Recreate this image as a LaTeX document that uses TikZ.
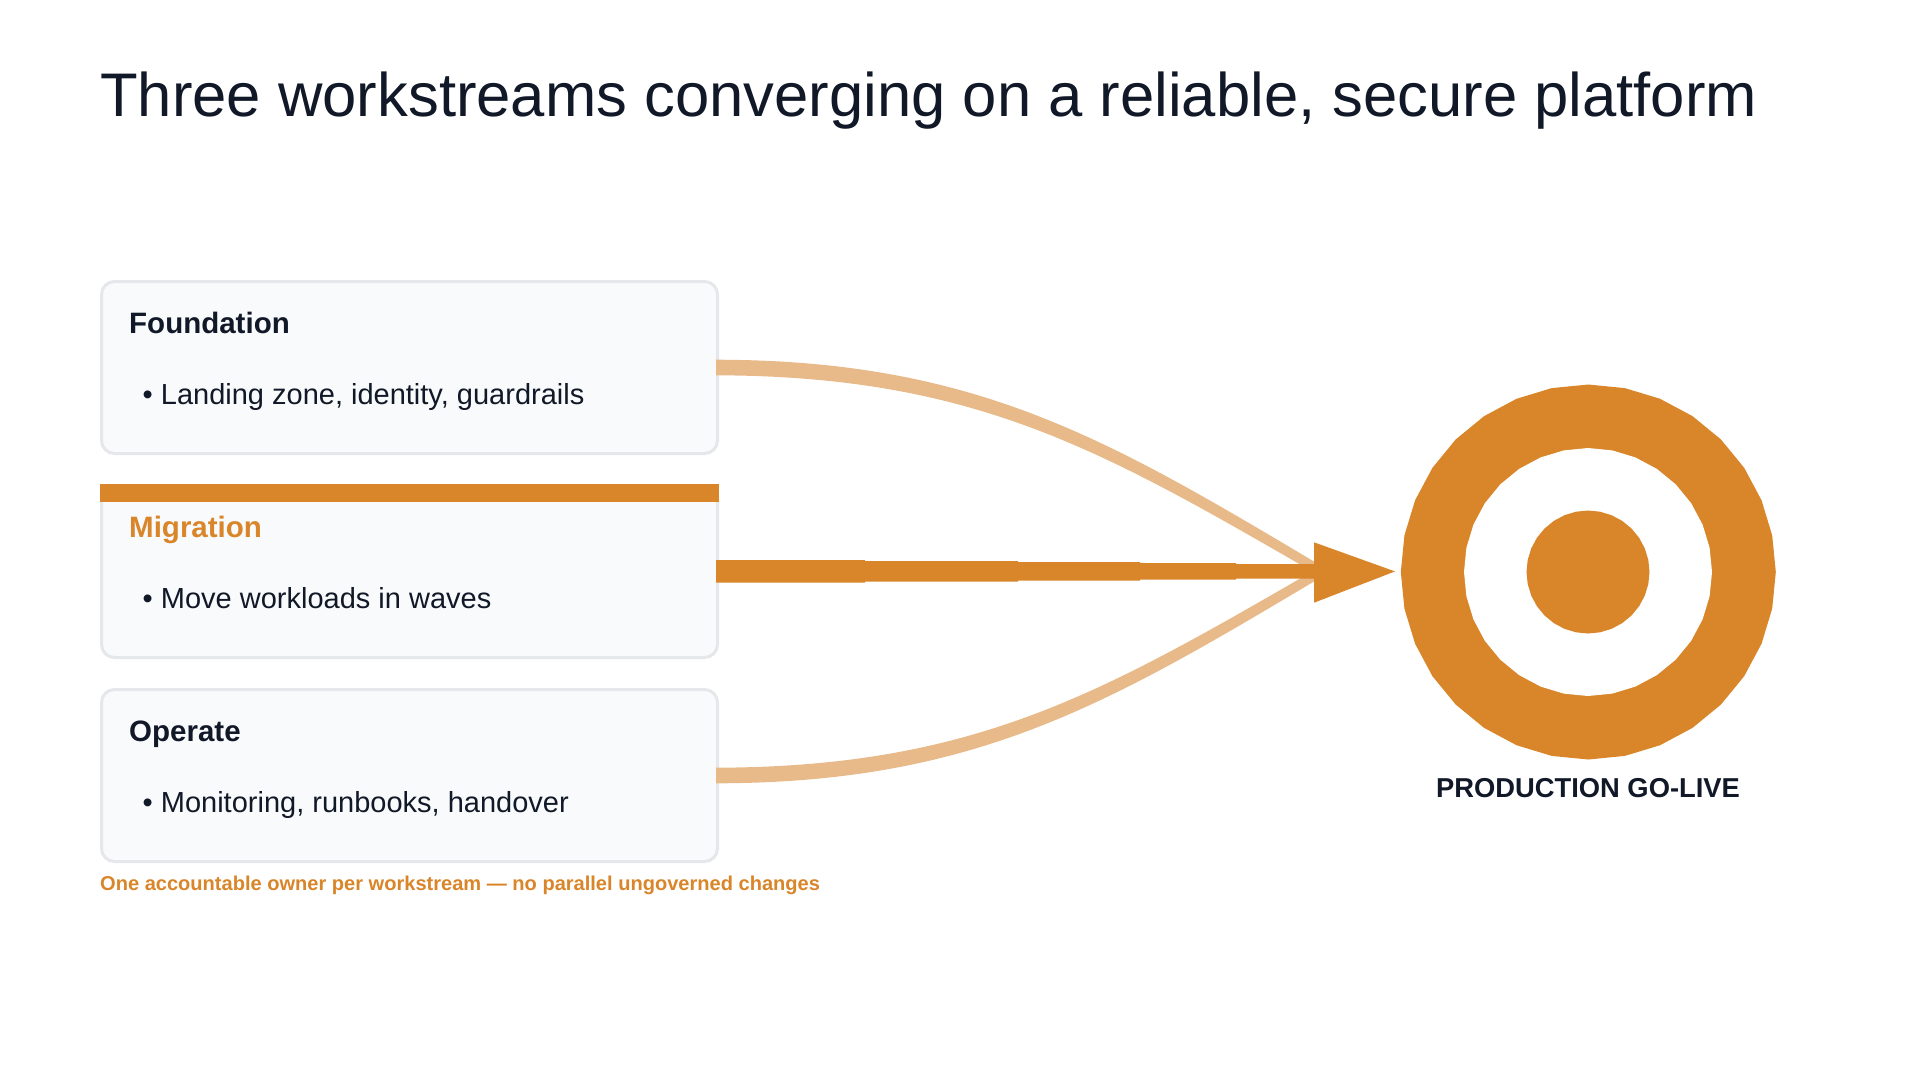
\documentclass[tikz,border=0pt]{standalone}
\usepackage{fontspec}
\setmainfont{Liberation Sans}
\usetikzlibrary{calc,shapes.geometric}
\definecolor{ink}{HTML}{111827}
\definecolor{hot}{HTML}{D98529}
\definecolor{pale}{HTML}{E8BA8A}
\definecolor{boxfill}{HTML}{F9FAFB}
\definecolor{boxline}{HTML}{E5E7EB}
\tikzset{
  x=1pt,y=-1pt,
  card/.style={draw=boxline,fill=boxfill,line width=3pt,rounded corners=13pt,minimum width=616pt,minimum height=172pt,inner sep=0pt},
  cardhead/.style={anchor=base west,inner sep=0pt,text=ink,font=\fontsize{29.5}{34}\selectfont\bfseries},
  cardtext/.style={anchor=base west,inner sep=0pt,text=ink,font=\fontsize{29}{34}\selectfont},
  ring/.style={regular polygon,regular polygon sides=32,shape border rotate=5.625,inner sep=0pt,outer sep=0pt,fill=#1},
}
\begin{document}
\begin{tikzpicture}
\useasboundingbox (0,0) rectangle (1919,1080);
\node[anchor=base west,inner sep=0pt,text=ink,font=\fontsize{61.6}{70}\selectfont] (title) at (100,116.7) {Three workstreams converging on a reliable, secure platform};

\node[card] (fnd) at (409.5,367.5) {};
\node[card] (mig) at (409.5,571.5) {};
\node[card] (opr) at (409.5,775.5) {};
\node[inner sep=0pt,fill=hot,minimum width=619pt,minimum height=18pt] (bar) at (409.5,493) {};

\node[cardhead] (fndh) at (129,333.3) {Foundation};
\node[cardtext] (fndt) at (142.5,404) {• Landing zone, identity, guardrails};
\node[cardhead,text=hot] (migh) at (129,537.3) {Migration};
\node[cardtext] (migt) at (142.5,608) {• Move workloads in waves};
\node[cardhead] (oprh) at (129,741.3) {Operate};
\node[cardtext] (oprt) at (142.5,812) {• Monitoring, runbooks, handover};

\node[anchor=base west,inner sep=0pt,text=hot,font=\fontsize{20.05}{24}\selectfont\bfseries] (note) at (100,890) {One accountable owner per workstream — no parallel ungoverned changes};

\node[ring=hot,minimum size=375pt] (outer) at (1588.3,572) {};
\node[ring=white,minimum size=248pt] (middle) at (1588,572) {};
\node[ring=hot,minimum size=123pt] (core) at (1588,572) {};
\node[anchor=base,inner sep=0pt,text=ink,font=\fontsize{27.35}{32}\selectfont\bfseries] (golive) at (1588,797) {PRODUCTION GO-LIVE};

\coordinate (headtop) at (1314,542.3);
\coordinate (headtip) at (1395,571.4);
\coordinate (headbot) at (1314,602.7);

% tapered side streams
\fill[pale] ($(fnd.east)+(-3,-7.8)$) .. controls (975,360) and (1108,439) .. (1314,561.5)
  -- (1314,572.5) .. controls (1102,450) and (975,376) .. ($(fnd.east)+(-3,7.8)$) -- cycle;
\fill[pale] ($(opr.east)+(-3,7.8)$) .. controls (975,783) and (1108,704) .. (1314,581.5)
  -- (1314,570.5) .. controls (1102,693) and (975,767) .. ($(opr.east)+(-3,-7.8)$) -- cycle;

% stepped main stream
\fill[hot] ($(mig.east)+(-3,-11.5)$) -- (865,560) -- (865,561) -- (1018,561) -- (1018,562) -- (1140,562) -- (1140,563) -- (1236,563) -- (1236,564) -- (1320,564)
  -- (1320,578.7) -- (1236,578.7) -- (1236,579.7) -- (1140,579.7) -- (1140,580.7) -- (1018,580.7) -- (1018,581.7) -- (865,581.7) -- (865,582.7) -- ($(mig.east)+(-3,11.2)$) -- cycle;

\fill[hot] (headtop) -- (headtip) -- (headbot) -- cycle;
\end{tikzpicture}
\end{document}
